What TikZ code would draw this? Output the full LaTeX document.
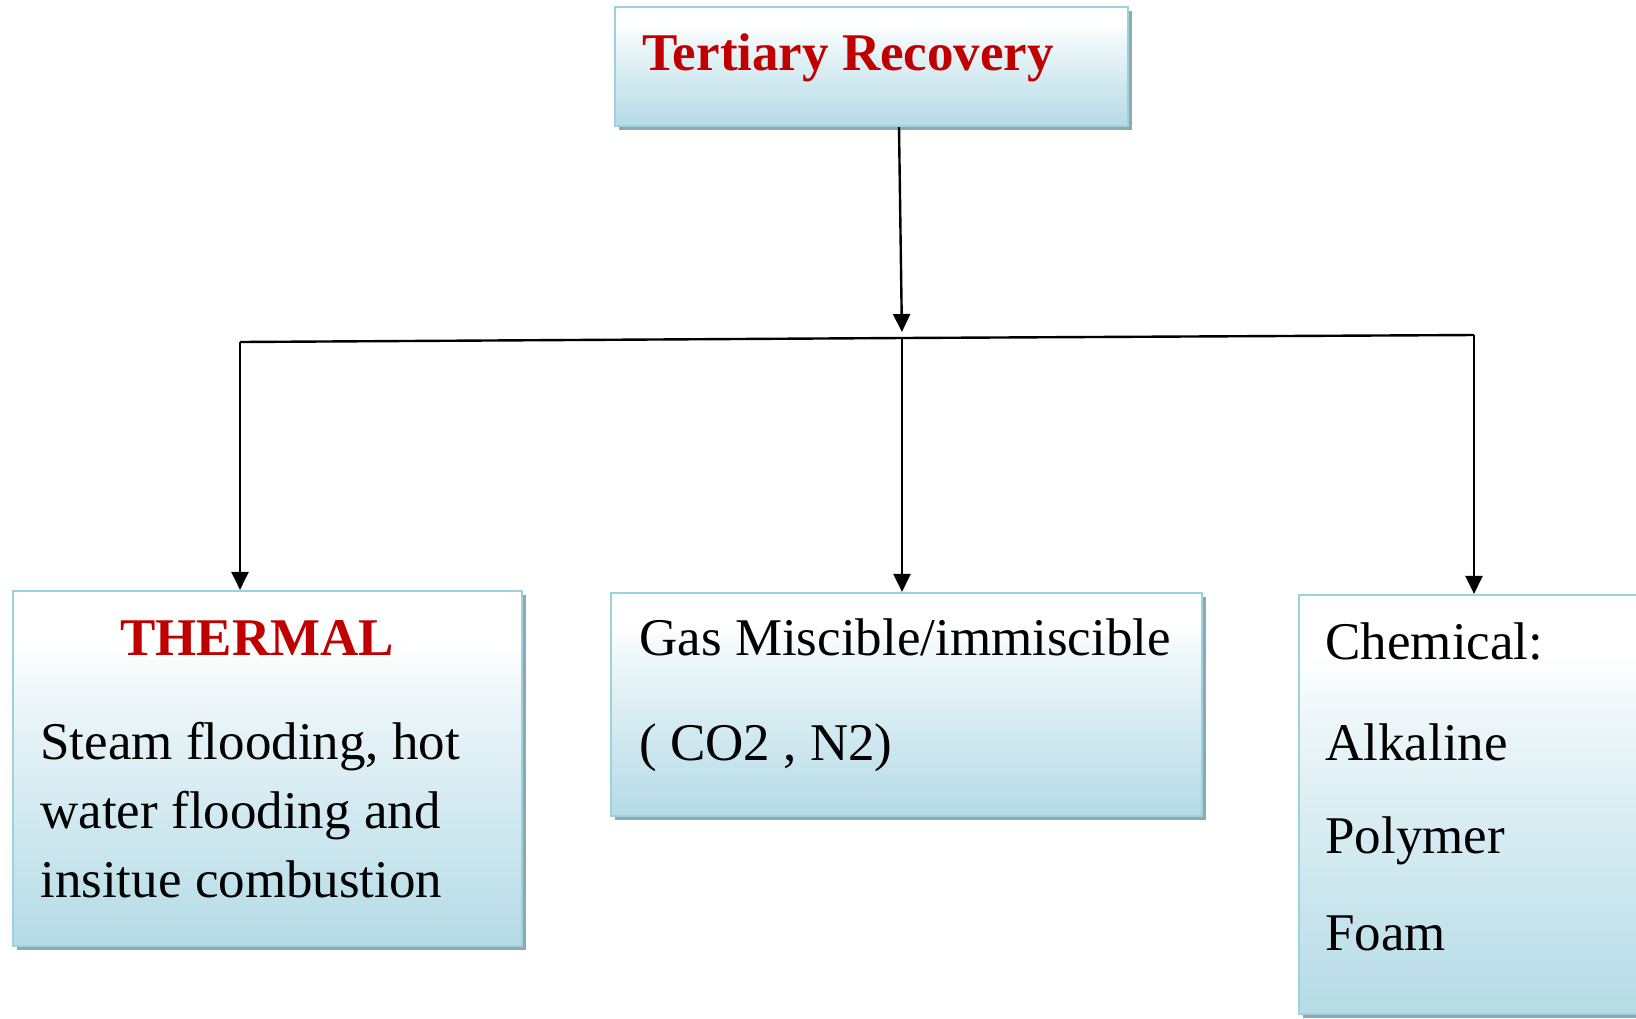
\documentclass[tikz,border=0pt]{standalone}
\usepackage{fontspec}
\setmainfont{Liberation Serif}
\usetikzlibrary{arrows.meta,shadows}

\definecolor{boxblue}{HTML}{B5DBE6}
\definecolor{boxmid}{HTML}{CFE8EF}
\definecolor{boxlight}{HTML}{EDF6F9}
\definecolor{boxedge}{HTML}{9ED1DE}
\definecolor{boxshadow}{HTML}{8FA9B2}
\definecolor{headred}{HTML}{C00000}

% white at the top, fading into light blue at the bottom
\pgfdeclareverticalshading{boxfade}{100bp}{%
  color(0bp)=(boxblue); color(25bp)=(boxblue); color(42bp)=(boxmid);
  color(60bp)=(boxlight); color(68bp)=(white); color(100bp)=(white)}

\tikzset{
  panel/.style={rectangle, draw=boxedge, line width=1.1pt, shading=boxfade,
    inner sep=0pt,
    drop shadow={shadow xshift=1.8pt, shadow yshift=-1.8pt,
                 fill=boxshadow, opacity=1}},
  head/.style={anchor=base west, inner sep=0pt, text=headred,
    font=\fontsize{26.5}{30}\selectfont\bfseries},
  body/.style={anchor=base west, inner sep=0pt,
    font=\fontsize{26.5}{30}\selectfont},
  link/.style={line width=1.2pt, black},
  arr/.style={link, -{Triangle[length=9pt,width=8.5pt]}},
}

\begin{document}
\begin{tikzpicture}[x=0.5pt,y=-0.5pt]
  \clip (0,0) rectangle (1636,1018);
  \fill[white] (0,0) rectangle (1636,1018);

  % boxes
  \node[panel, minimum width=256.5pt, minimum height=59.5pt] (top) at (871.5,66.5) {};
  \node[panel, minimum width=254.5pt, minimum height=177.5pt] (thermal) at (267.5,768.5) {};
  \node[panel, minimum width=295.5pt, minimum height=111.5pt] (gas) at (906.5,704.5) {};
  \node[panel, minimum width=180pt, minimum height=209.5pt] (chem) at (1479,804.5) {};

  % texts
  \node[head] (tTitle) at (642,70) {Tertiary Recovery};

  \node[head] (tThermal) at (120,655) {THERMAL};
  \node[body] (tTh1) at (40,759) {Steam flooding, hot};
  \node[body] (tTh2) at (40,828) {water flooding and};
  \node[body] (tTh3) at (40,897) {insitue combustion};

  \node[body] (tGas1) at (639,655) {Gas Miscible/immiscible};
  \node[body] (tGas2) at (639,760) {( CO2 , N2)};

  \node[body] (tCh1) at (1325,659) {Chemical:};
  \node[body] (tCh2) at (1325,760) {Alkaline};
  \node[body] (tCh3) at (1325,853) {Polymer};
  \node[body] (tCh4) at (1325,950) {Foam};

  % branching connectors
  \coordinate (jl) at (240,342);
  \coordinate (jc) at (902,338);
  \coordinate (jr) at (1474,335);
  \coordinate (ts) at (899,0);

  \draw[arr, shorten >=3pt] (top.south -| ts) -- (jc);
  \draw[link] (jl) -- (jc) -- (jr);
  \draw[arr] (jl) -- (jl |- thermal.north);
  \draw[arr] (jc) -- (jc |- gas.north);
  \draw[arr] (jr) -- (jr |- chem.north);
\end{tikzpicture}
\end{document}
